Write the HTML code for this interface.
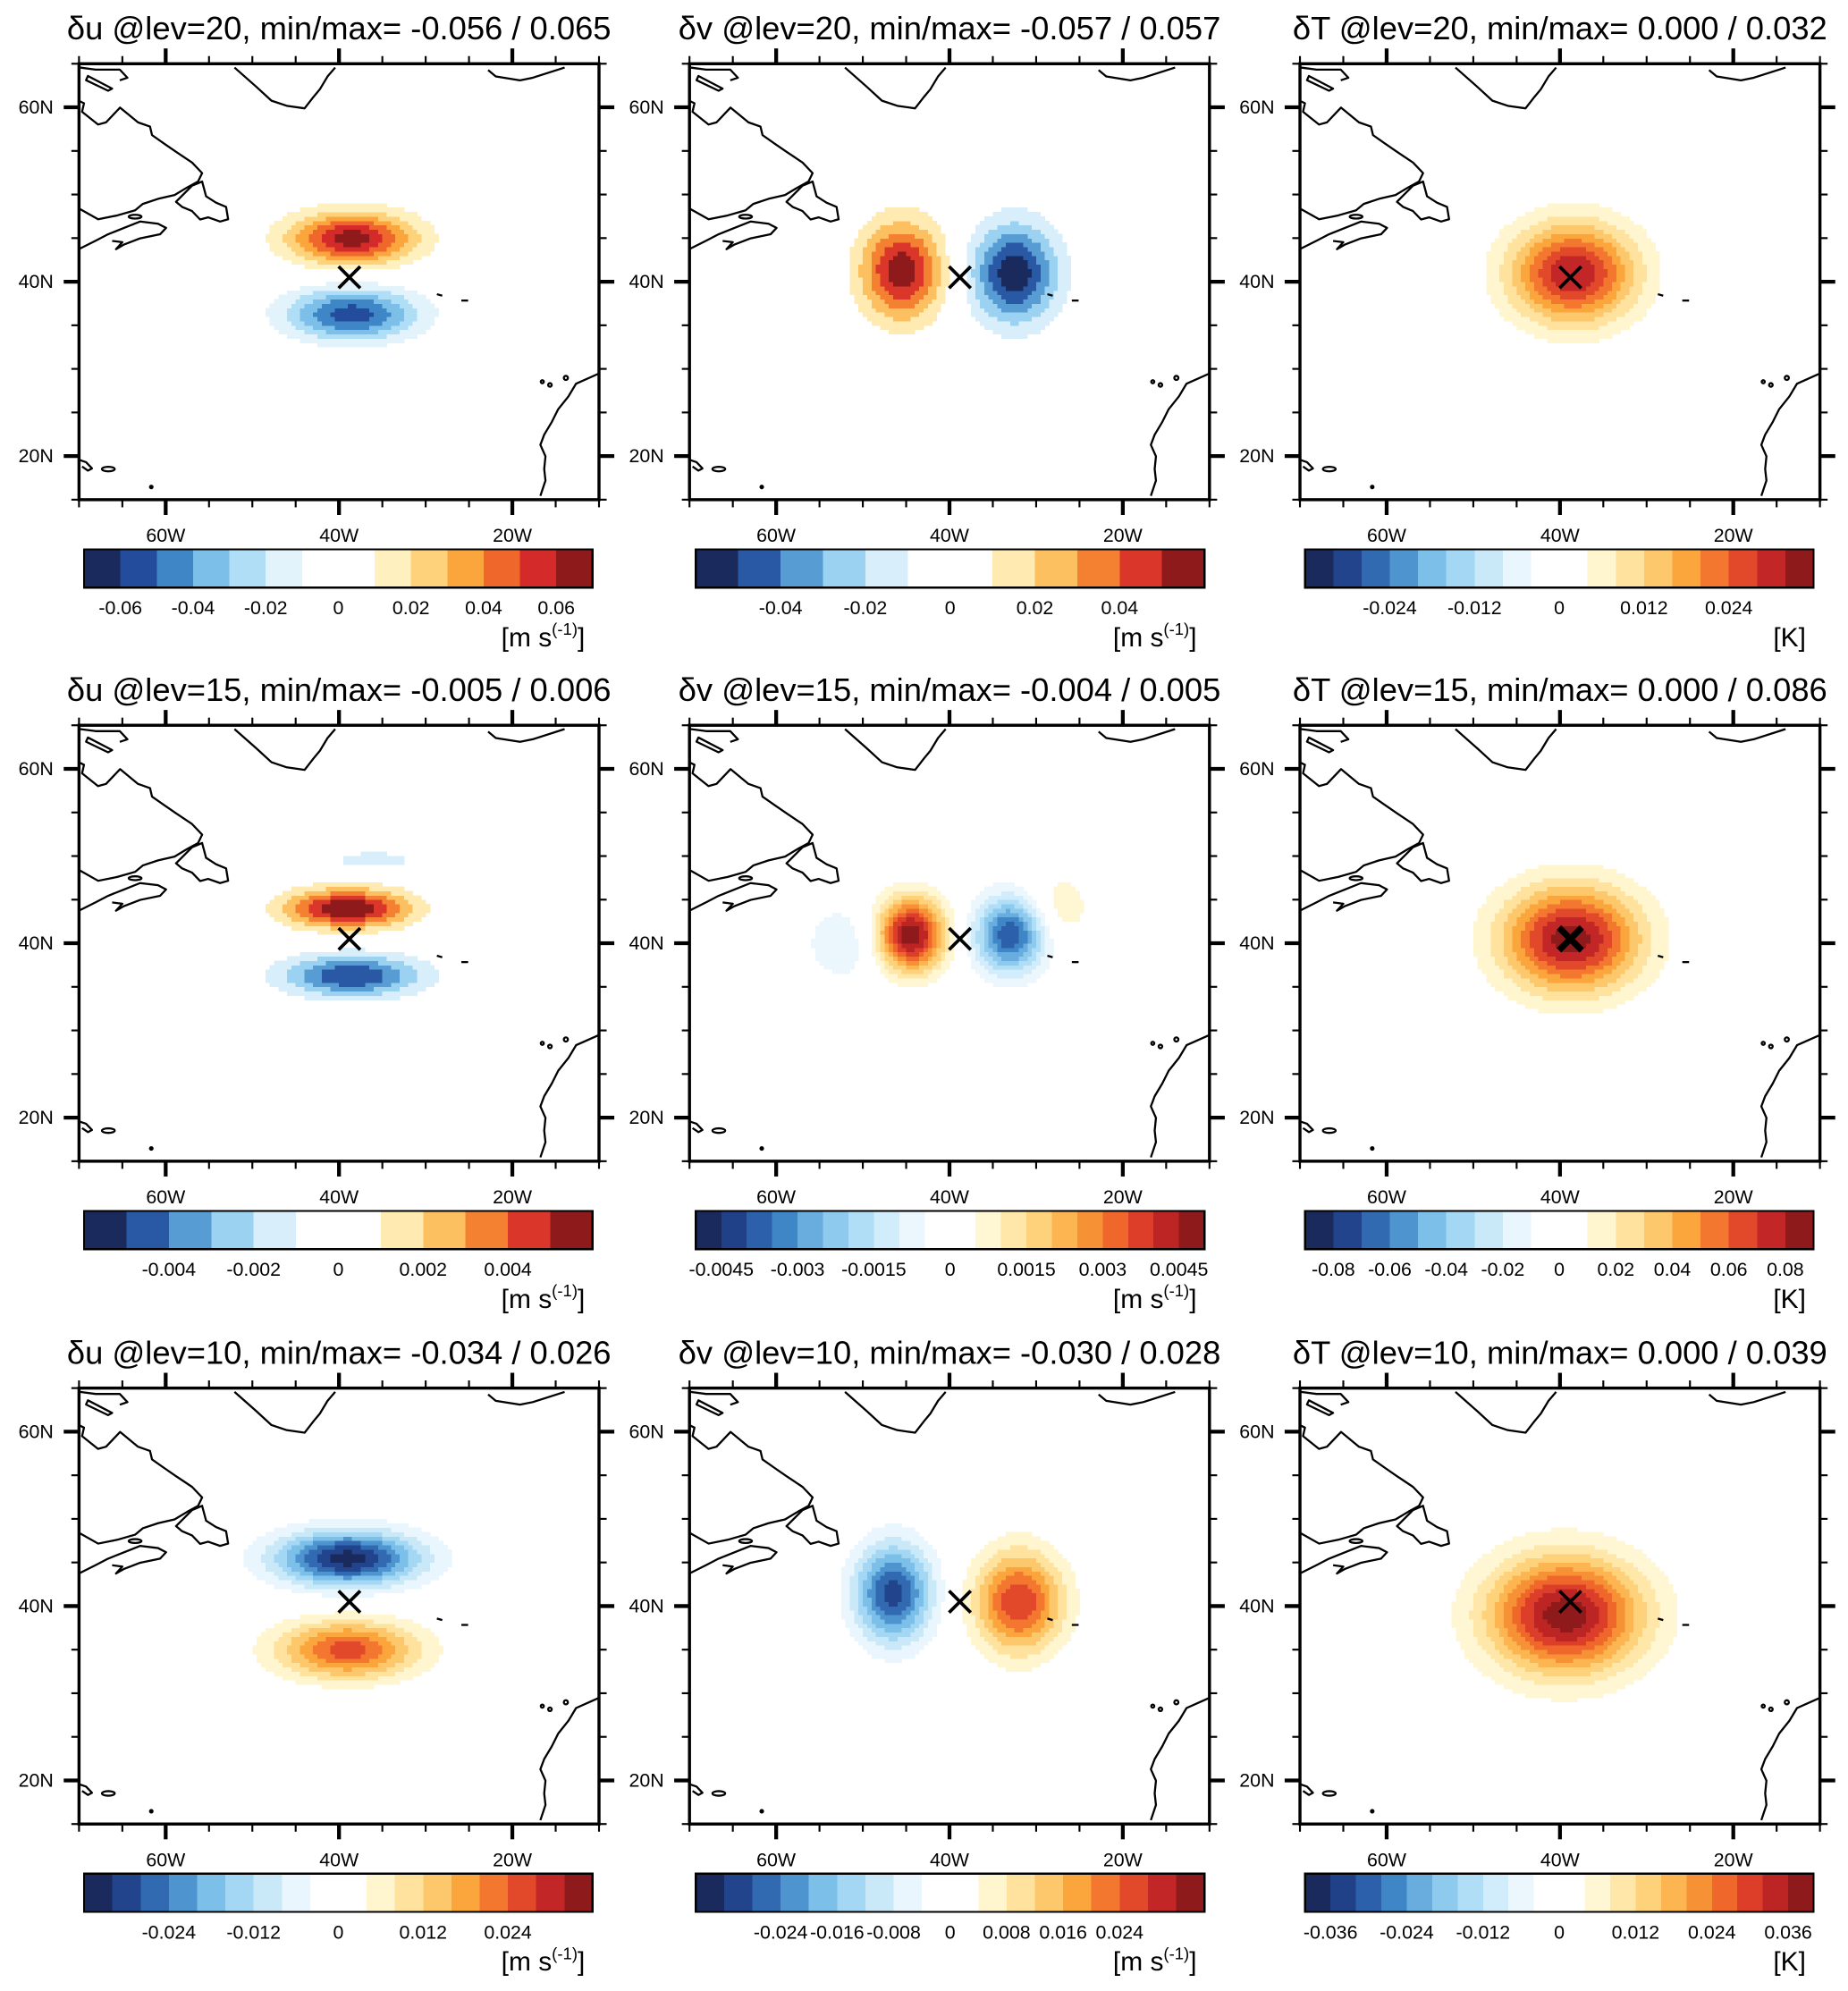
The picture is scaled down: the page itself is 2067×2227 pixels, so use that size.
<!DOCTYPE html>
<html><head><meta charset="utf-8"><style>
html,body{margin:0;padding:0;background:#fff;}
svg{display:block;}
text{font-family:"Liberation Sans",Arial,sans-serif;fill:#000;}
</style></head><body>
<svg id="fig" xmlns="http://www.w3.org/2000/svg" width="2067" height="2227" viewBox="0 0 1450 1562" preserveAspectRatio="none"></svg>
<script>
// ---- data ----
const titles = [
 "δu @lev=20, min/max= -0.056 / 0.065","δv @lev=20, min/max= -0.057 / 0.057","δT @lev=20, min/max= 0.000 / 0.032",
 "δu @lev=15, min/max= -0.005 / 0.006","δv @lev=15, min/max= -0.004 / 0.005","δT @lev=15, min/max= 0.000 / 0.086",
 "δu @lev=10, min/max= -0.034 / 0.026","δv @lev=10, min/max= -0.030 / 0.028","δT @lev=10, min/max= 0.000 / 0.039"];
const units = ["ms","ms","K","ms","ms","K","ms","ms","K"];
const boxCounts = [14,12,18,12,20,18,18,18,20];
const levelSteps = [0.01,0.01,0.004,0.001,0.0005,0.01,0.004,0.004,0.004];
const tickLabels = [
 ["-0.06","-0.04","-0.02","0","0.02","0.04","0.06"],
 ["-0.04","-0.02","0","0.02","0.04"],
 ["-0.024","-0.012","0","0.012","0.024"],
 ["-0.004","-0.002","0","0.002","0.004"],
 ["-0.0045","-0.003","-0.0015","0","0.0015","0.003","0.0045"],
 ["-0.08","-0.06","-0.04","-0.02","0","0.02","0.04","0.06","0.08"],
 ["-0.024","-0.012","0","0.012","0.024"],
 ["-0.024","-0.016","-0.008","0","0.008","0.016","0.024"],
 ["-0.036","-0.024","-0.012","0","0.012","0.024","0.036"]];
// lobes: [lon, lat, amplitude, sigmaLon, sigmaLat]
const lobes = [
 [[-38.5,45.0,0.065,5.1,2.1],[-38.5,36.3,-0.056,5.3,2.1]],
 [[-45.5,41.3,0.057,3.3,3.9],[-32.5,41.0,-0.057,3.5,4.0]],
 [[-38.5,41.0,0.032,5.0,4.0]],
 [[-39.0,44.0,0.006,5.0,1.6],[-38.5,36.3,-0.005,5.6,1.7],[-36.0,49.5,-0.0015,4.0,0.9]],
 [[-44.5,41.0,0.005,2.7,2.9],[-33.0,41.0,-0.004,2.8,3.0],[-27.5,44.0,0.0009,2.8,3.0],[-52.0,40.0,-0.0009,3.5,3.3]],
 [[-38.7,40.5,0.086,5.5,4.2]],
 [[-39.0,45.5,-0.034,5.8,2.2],[-39.0,35.0,0.026,5.6,2.3]],
 [[-46.5,41.5,-0.030,3.1,3.9],[-32.0,40.5,0.028,3.5,4.0]],
 [[-39.4,39.0,0.039,6.1,4.6]]];
const marker = [-38.8,40.5];
const latTicks = [20,40,60];
const lonTicks = [-60,-40,-20];
// ---- layout ----
const NS="http://www.w3.org/2000/svg", svg=document.getElementById('fig');
const colOff=[0,479,958], rowOff=[0,519,1039];
const FX=62, FY=50, FW=408, FH=342, LON0=-70, LON1=-10, LAT0=15, LAT1=65, RES=0.5;
const blueStops=["#1b2a5c","#234d9c","#3f86c6","#7cc0ea","#b0def6","#e2f3fc","#ffffff"];
const redStops=["#ffffff","#fff1bf","#fdd27a","#fba63c","#f0672b","#d42a29","#8f1a1c"];
function hex(h){return [parseInt(h.slice(1,3),16),parseInt(h.slice(3,5),16),parseInt(h.slice(5,7),16)];}
function samp(stops,t){const p=t*(stops.length-1),i=Math.min(Math.floor(p),stops.length-2),f=p-i;const a=hex(stops[i]),b=hex(stops[i+1]);return 'rgb('+a.map((v,k)=>Math.round(v+(b[k]-v)*f)).join(',')+')';}
function palette(n){const h=n/2,c=[];for(let i=0;i<h;i++)c.push(samp(blueStops,h>1?i/(h-1):1));for(let i=0;i<h;i++)c.push(samp(redStops,h>1?i/(h-1):0));return c;}
function el(tag,attrs,parent){const e=document.createElementNS(NS,tag);for(const k in attrs)e.setAttribute(k,attrs[k]);(parent||svg).appendChild(e);return e;}
const coastLines=[
 [[0.8,3],[13,4.6],[32,4.6],[38,11],[32,13]],
 [[0.8,29.5],[3.9,31],[2.4,37.7],[14.9,47.7],[21.2,46],[32.2,34.4],[46.3,46],[55.7,49.3],[57.3,56],[66.7,62.6],[76,69],[88.7,77.5],[96.6,85.8],[93.4,92.4],[85,97],[75,103],[62,106],[50,110],[44,115],[30,119],[15,122],[0.8,114]],
 [[0.8,145],[13.4,138.7],[22.8,133.8],[35.3,128.8],[47.9,123.8],[62,125.5],[68.3,128.8],[63.6,133.8],[48,137],[35,142],[29,145.5],[34,140],[26,139]],
 [[122,3],[139,18],[151,29],[163,33],[177,35],[184,26],[189,20],[195,10],[201,3]],
 [[321,5],[327,10],[346,13],[356,11],[381,3]],
 [[408,243],[390,251],[384,261],[376,271],[371,281],[365,291],[362,299],[366,308],[365,318],[366,327],[362,339]],
 [[280.8,180.8],[285,182]],[[300,185.8],[305.3,185.8]],
 [[0.8,311],[5.5,312.6],[10.2,317.5],[7,319.2],[2.4,316]]];
const coastLoops=[
 [[7,9.6],[26,19.5],[22.8,21.2],[5.5,12.9]],
 [[88.7,95.7],[96.6,92.4],[99.7,104],[107.5,109],[115.4,112.3],[117,122],[110.7,123.8],[101.3,120.5],[95,122.2],[88.7,115.6],[80.9,112.3],[76.1,108.3]]];

for(let p=0;p<9;p++){
 const c=p%3,r=Math.floor(p/3),ox=colOff[c],oy=rowOff[r];
 const g=el('g',{});
 
 
 const x0=FX+ox,y0=FY+oy;
 const X=lon=>x0+(lon-LON0)/(LON1-LON0)*FW, Y=lat=>y0+(LAT1-lat)/(LAT1-LAT0)*FH;
 const t=el('text',{x:x0+FW/2,y:y0-19,'text-anchor':'middle','font-size':25.5},g);t.textContent=titles[p];
 
 // field
 const n=boxCounts[p],st=levelSteps[p],cols=palette(n),half=n/2;
 const fg=el('g',{'shape-rendering':'crispEdges'},g);
 
 for(let lon=LON0;lon<LON1;lon+=RES)for(let lat=LAT0;lat<LAT1;lat+=RES){
  let v=0;for(const L of lobes[p]){const dx=(lon+RES/2-L[0])/L[3],dy=(lat+RES/2-L[1])/L[4];v+=L[2]*Math.exp(-0.5*(dx*dx+dy*dy));}
  let idx=half+Math.floor(v/st);idx=Math.max(0,Math.min(n-1,idx));
  if(idx===half||idx===half-1)continue;
  const cell=el('rect',{x:X(lon),y:Y(lat+RES),width:X(lon+RES)-X(lon)+0.3,height:Y(lat)-Y(lat+RES)+0.3,fill:cols[idx]},fg);
  
  
 }
 // coastlines
 const cg=el('g',{fill:'none',stroke:'#000','stroke-width':1.6,'stroke-linejoin':'round'},g);
 
 for(const L of coastLines)el('polyline',{points:L.map(q=>(q[0]+x0)+','+(q[1]+y0)).join(' ')},cg);
 for(const L of coastLoops)el('polygon',{points:L.map(q=>(q[0]+x0)+','+(q[1]+y0)).join(' ')},cg);
 el('ellipse',{cx:x0+23,cy:y0+318,rx:5,ry:1.8},cg);
 el('ellipse',{cx:x0+44,cy:y0+120,rx:5,ry:1.5},cg);
 el('circle',{cx:x0+363.5,cy:y0+249.5,r:1.2},cg);el('circle',{cx:x0+369.5,cy:y0+252,r:1.4},cg);el('circle',{cx:x0+382,cy:y0+246.5,r:1.6},cg);
 el('circle',{cx:x0+56.7,cy:y0+332,r:1,fill:'#000'},cg);
 // marker
 const mx=X(marker[0]),my=Y(marker[1]),ms=p===5?9:8.5,sw=p===5?5:2.6;
 const mk=el('path',{d:`M${mx-ms},${my-ms}L${mx+ms},${my+ms}M${mx-ms},${my+ms}L${mx+ms},${my-ms}`,stroke:'#000','stroke-width':sw,fill:'none'},g);
 
 // frame
 const fr=el('rect',{x:x0,y:y0,width:FW,height:FH,fill:'none',stroke:'#000','stroke-width':2.4},g);
 
 // ticks
 const tg=el('g',{stroke:'#000','stroke-width':1.6},g);
 
 for(let lon=LON0;lon<=LON1;lon+=5){const maj=lonTicks.includes(lon),L=maj?12:6,w=maj?3:1.5;
  el('line',{x1:X(lon),x2:X(lon),y1:y0,y2:y0-L,'stroke-width':w},tg);
  el('line',{x1:X(lon),x2:X(lon),y1:y0+FH,y2:y0+FH+L,'stroke-width':w},tg);}
 for(let lat=LAT0;lat<=LAT1;lat+=5){const maj=latTicks.includes(lat),L=maj?12:6,w=maj?3:1.5;
  el('line',{x1:x0,x2:x0-L,y1:Y(lat),y2:Y(lat),'stroke-width':w},tg);
  el('line',{x1:x0+FW,x2:x0+FW+L,y1:Y(lat),y2:Y(lat),'stroke-width':w},tg);}
 for(const lat of latTicks){const tx=el('text',{x:x0-20,y:Y(lat)+5,'text-anchor':'end','font-size':15},g);tx.textContent=lat+'N';
  }
 for(const lon of lonTicks){const tx=el('text',{x:X(lon),y:y0+FH+33,'text-anchor':'middle','font-size':15},g);tx.textContent=(-lon)+'W';
  }
 // colorbar
 const bx=66+ox+(c===1?1:0),by=431+oy,bw=399,bh=30,b=bw/n;
 const cb=el('g',{'shape-rendering':'crispEdges'},g);
 
 for(let i=0;i<n;i++){const bxr=el('rect',{x:bx+i*b,y:by,width:b+0.5,height:bh,fill:cols[i]},cb);
  }
 el('rect',{x:bx,y:by,width:bw,height:bh,fill:'none',stroke:'#000','stroke-width':1.6},cb);
 for(const lab of tickLabels[p]){const v=parseFloat(lab);const xx=bx+bw/2+v/st*b;
  const tx=el('text',{x:xx,y:by+51,'text-anchor':'middle','font-size':15},g);tx.textContent=lab;
  }
 const ut=el('text',{x:bx+bw-6,y:by+76,'text-anchor':'end','font-size':21},g);
 
 if(units[p]==='K'){ut.textContent='[K]';}
 else{const a=el('tspan',{},ut);a.textContent='[m s';const s=el('tspan',{'font-size':13,dy:-9},ut);s.textContent='(-1)';const e2=el('tspan',{dy:9},ut);e2.textContent=']';}
}
</script>
</body></html>
